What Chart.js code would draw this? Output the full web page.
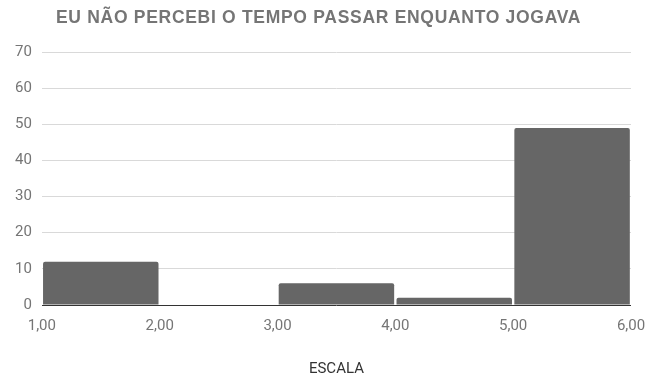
<!DOCTYPE html>
<html>
<head>
<meta charset="utf-8">
<script src="https://cdn.jsdelivr.net/npm/chart.js@4"></script>
<style>
html,body{margin:0;padding:0;background:#fff;}
#wrap{width:660px;height:378px;position:relative;}
</style>
</head>
<body>
<div id="wrap"><canvas id="c" width="660" height="378"></canvas></div>
<script>
const chartTitle = 'EU NÃO PERCEBI O TEMPO PASSAR ENQUANTO JOGAVA';
const axisTitle = 'ESCALA';
const binEdges = [1, 2, 3, 4, 5, 6];
const tickLabels = ['1,00', '2,00', '3,00', '4,00', '5,00', '6,00'];
const counts = [12, 0, 6, 2, 49];
const yTicks = [0, 10, 20, 30, 40, 50, 60, 70];

const points = counts.map((v, i) => ({ x: (binEdges[i] + binEdges[i + 1]) / 2, y: v }));

const titlePlugin = {
  id: 'leftTitle',
  afterDraw(chart) {
    const ctx = chart.ctx;
    ctx.save();
    ctx.font = 'bold 17.5px "Liberation Sans", Arial, sans-serif';
    ctx.fillStyle = '#757575';
    ctx.textBaseline = 'middle';
    ctx.textAlign = 'left';
    try { ctx.letterSpacing = '0.7px'; } catch (e) {}
    ctx.fillText(chartTitle, 56, 18);
    ctx.restore();
  }
};

new Chart(document.getElementById('c'), {
  type: 'bar',
  data: {
    datasets: [{
      data: points,
      backgroundColor: '#666666',
      borderWidth: 0,
      borderRadius: { topLeft: 2, topRight: 2, bottomLeft: 0, bottomRight: 0 },
      borderSkipped: false,
      barPercentage: 0.98,
      categoryPercentage: 1
    }]
  },
  options: {
    responsive: false,
    animation: false,
    layout: { padding: { top: 52, right: 29, left: 5, bottom: 0 } },
    plugins: {
      legend: { display: false },
      title: { display: false },
      tooltip: { enabled: false }
    },
    scales: {
      x: {
        type: 'linear',
        min: binEdges[0],
        max: binEdges[binEdges.length - 1],
        offset: false,
        afterBuildTicks(axis) { axis.ticks = binEdges.map(v => ({ value: v })); },
        ticks: {
          callback: (v) => tickLabels[binEdges.indexOf(v)],
          color: '#757575',
          font: { family: 'Roboto', size: 15 },
          padding: 12,
          maxRotation: 0,
          autoSkip: false
        },
        grid: { display: false, offset: false, drawTicks: false },
        border: { display: false },
        title: {
          display: true,
          text: axisTitle,
          color: '#333333',
          font: { family: 'Roboto', size: 15 },
          padding: { top: 13, bottom: 0 }
        }
      },
      y: {
        min: 0,
        max: 70,
        afterBuildTicks(axis) { axis.ticks = yTicks.map(v => ({ value: v })); },
        ticks: {
          color: '#757575',
          font: { family: 'Roboto', size: 15 },
          padding: 10
        },
        grid: {
          color: (c) => (c.tick && c.tick.value === 0 ? '#333333' : '#d9d9d9'),
          lineWidth: 1,
          drawTicks: false
        },
        border: { display: false }
      }
    }
  },
  plugins: [titlePlugin]
});
</script>
</body>
</html>
